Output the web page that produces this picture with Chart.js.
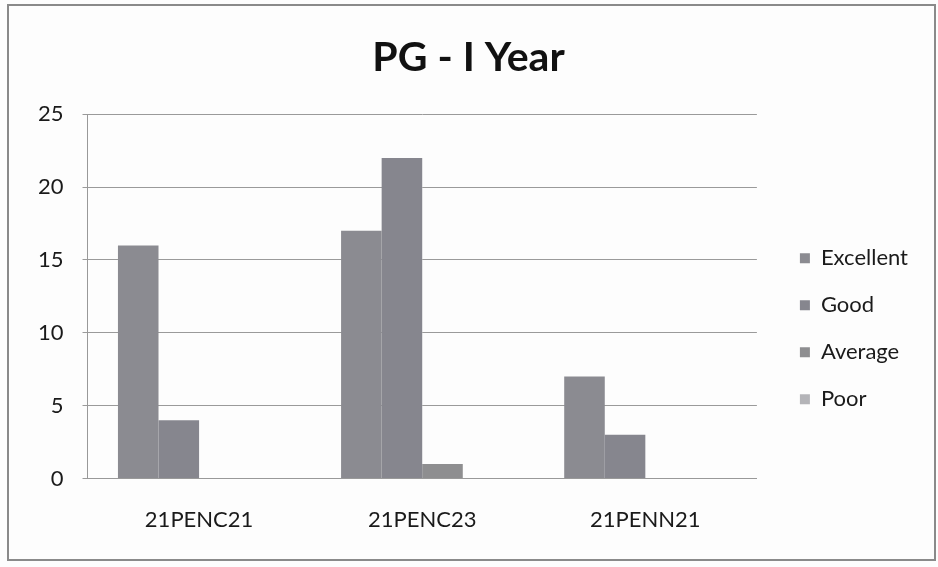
<!DOCTYPE html>
<html><head><meta charset="utf-8">
<script src="https://cdn.jsdelivr.net/npm/chart.js@4.4.1/dist/chart.umd.min.js"></script>
<style>html,body{margin:0;padding:0;background:#fff;}#wrap{width:938px;height:567px;}</style>
</head><body><div id="wrap"><canvas id="c" width="938" height="567"></canvas></div>
<script>
const categories = ['21PENC21', '21PENC23', '21PENN21'];
const seriesNames = ['Excellent', 'Good', 'Average', 'Poor'];
const excellent = [16, 17, 7];
const good = [4, 22, 3];
const average = [0, 1, 0];
const poor = [0, 0, 0];
const yTicks = [0, 5, 10, 15, 20, 25];
const chartTitle = 'PG - I Year';

const seriesColors = ['#8b8b91', '#86868e', '#8e8e90', '#b4b4b8'];
const FONT = 'Lato';
const TEXT = '#1a1a1a';

const frame = {
  id: 'frame',
  beforeDraw(chart) {
    const c = chart.ctx;
    c.save();
    c.fillStyle = '#fdfdfd';
    c.fillRect(0, 0, chart.width, chart.height);
    c.strokeStyle = '#8a8a8a';
    c.lineWidth = 2;
    c.strokeRect(8, 5, 927, 555);
    c.restore();
  }
};

const values = [excellent, good, average, poor];
new Chart(document.getElementById('c'), {
  type: 'bar',
  data: {
    labels: categories,
    datasets: seriesNames.map((n, i) => ({
      label: n,
      data: values[i],
      backgroundColor: seriesColors[i],
      borderWidth: 0,
      categoryPercentage: 4 / 5.5,
      barPercentage: 1
    }))
  },
  options: {
    responsive: false,
    devicePixelRatio: 1,
    animation: false,
    layout: { padding: { top: 10, left: 19, right: 20, bottom: 14 } },
    plugins: {
      tooltip: { enabled: false },
      title: {
        display: true,
        text: chartTitle,
        color: '#111',
        font: { family: FONT, size: 41, weight: 'bold' },
        padding: { top: 23, bottom: 32 }
      },
      legend: {
        position: 'right',
        align: 'start',
        fullSize: false,
        title: { display: true, text: ' ', font: { size: 10 }, padding: { top: 0, bottom: 96 } },
        labels: {
          boxWidth: 10,
          boxHeight: 10,
          padding: 25,
          color: TEXT,
          font: { family: FONT, size: 22 }
        }
      }
    },
    scales: {
      x: {
        grid: { display: false, tickLength: 8 },
        border: { display: true, color: '#999' },
        ticks: { color: TEXT, font: { family: FONT, size: 22 }, padding: 20 }
      },
      y: {
        min: 0,
        max: 25,
        afterBuildTicks(s) { s.ticks = yTicks.map(v => ({ value: v })); },
        grid: { color: '#9a9a9a', drawTicks: true, tickLength: 5 },
        border: { display: true, color: '#999' },
        ticks: { color: TEXT, font: { family: FONT, size: 22 }, padding: 19 }
      },
      ySpacer: {
        type: 'linear',
        position: 'right',
        grid: { display: false },
        border: { display: false },
        ticks: { display: false },
        afterFit(s) { s.width = 18; }
      }
    }
  },
  plugins: [frame]
});
</script>
</body></html>
